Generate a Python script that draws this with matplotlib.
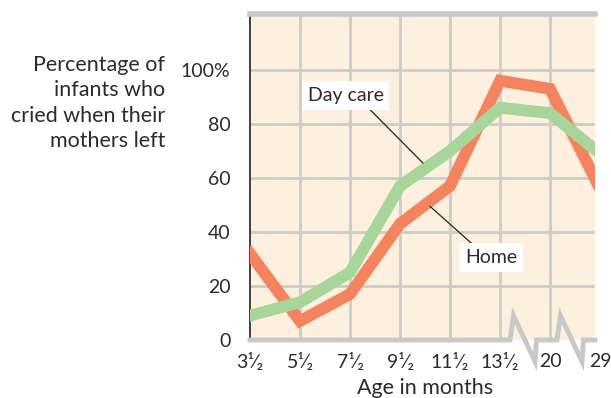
import numpy as np
import matplotlib.pyplot as plt

# data
ages = ["3¹⁄₂", "5¹⁄₂", "7¹⁄₂", "9¹⁄₂", "11¹⁄₂", "13¹⁄₂", "20", "29"]
day_care = [9, 14, 25, 57, 70, 86, 84, 69]
home = [32, 7, 17, 43, 57, 96, 93, 56]
yticks = [0, 20, 40, 60, 80, 100]
ytick_labels = ["0", "20", "40", "60", "80", "100%"]

# zigzag breaks on the x axis (index units, value units)
breaks = [5.2, 6.14]

plt.rcParams['font.family'] = ['Lato', 'DejaVu Sans']
txt = '#2b2b2b'
bg = '#fef0df'
grid = '#cccccc'

fig = plt.figure(figsize=(6.11, 3.98), dpi=100)
ax = fig.add_axes([250/611, 58/398, 345/611, 326/398])
ax.set_facecolor(bg)
ax.set_xlim(0, 6.9)
ax.set_ylim(0, 120.7)

x = np.arange(len(ages))
for xi in x[1:]:
    ax.axvline(xi, color=grid, lw=2, zorder=1)
for yv in yticks[1:]:
    ax.axhline(yv, color=grid, lw=2, zorder=1)

ax.plot(x, home, color='#f4845f', lw=8.5, solid_joinstyle='miter', zorder=3)
ax.plot(x, day_care, color='#a8d69a', lw=8.5, solid_joinstyle='miter', zorder=4)

for s in ['right', 'bottom']:
    ax.spines[s].set_visible(False)
ax.spines['top'].set_color('#c8c8c8')
ax.spines['top'].set_linewidth(4)
ax.spines['left'].set_color('#333333')
ax.spines['left'].set_linewidth(1.3)

# bottom axis with break marks
bx = [0]
by = [0]
for b in breaks:
    bx += [b, b + 0.07, b + 0.5, b + 0.53]
    by += [0, 9, -8, 0]
bx.append(6.9)
by.append(0)
ax.plot(bx, by, color='#c8c8c8', lw=3.5, clip_on=False, zorder=5,
        solid_joinstyle='miter')

ax.set_xticks([])
ax.set_yticks(yticks)
ax.set_yticklabels(ytick_labels)
ax.tick_params(axis='y', length=0, pad=14, labelsize=14, labelcolor=txt)

for xi, lab in zip(x, ages):
    ax.text(xi, -8, lab, ha='center', va='center', fontsize=14,
            color=txt, clip_on=False)

fig.text(425/611, 1 - 388/398, "Age in months", ha='center', va='center',
         fontsize=15.5, color=txt)
fig.text(165/611, 1 - 103/398,
         "Percentage of\ninfants who\ncried when their\nmothers left",
         ha='right', va='center', fontsize=15.5, color=txt, linespacing=1.32)

# callouts
ax.annotate("Day care", xy=(3.46, 65.5), xytext=(1.15, 90.5),
            ha='left', va='center', fontsize=14, color=txt, zorder=6,
            bbox=dict(boxstyle='square,pad=0.3', fc='white', ec='none'),
            arrowprops=dict(arrowstyle='-', color='#222222', lw=0.9,
                            shrinkA=0, shrinkB=0, relpos=(0.75, 0)))
ax.annotate("Home", xy=(3.6, 49.5), xytext=(4.3, 30.5),
            ha='left', va='center', fontsize=14, color=txt, zorder=6,
            bbox=dict(boxstyle='square,pad=0.3', fc='white', ec='none'),
            arrowprops=dict(arrowstyle='-', color='#222222', lw=0.9,
                            shrinkA=0, shrinkB=0, relpos=(0.25, 1)))

fig.savefig("out.png", dpi=100)
